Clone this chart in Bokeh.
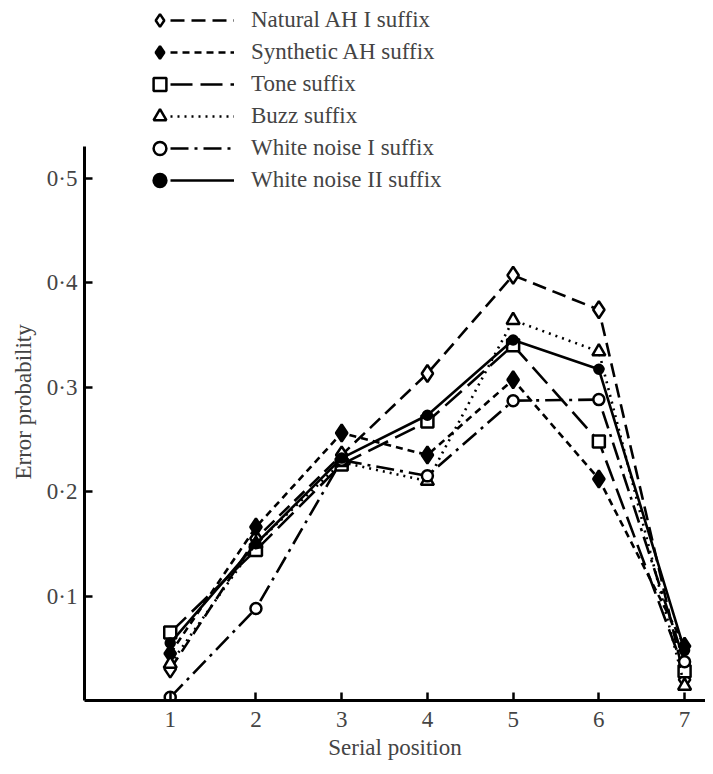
from bokeh.plotting import figure
from bokeh.models import FixedTicker, Legend, LegendItem, Range1d, Title
from bokeh.embed import file_html
from bokeh.resources import INLINE

# ---- data ----
positions = [1, 2, 3, 4, 5, 6, 7]
natural_ah = [0.030, 0.155, 0.235, 0.313, 0.407, 0.374, 0.020]
synthetic_ah = [0.045, 0.166, 0.256, 0.235, 0.307, 0.212, 0.052]
tone = [0.065, 0.144, 0.226, 0.267, 0.340, 0.248, 0.028]
buzz = [0.035, 0.150, 0.228, 0.210, 0.364, 0.334, 0.014]
white_noise_1 = [0.003, 0.088, 0.230, 0.215, 0.287, 0.288, 0.037]
white_noise_2 = [0.055, 0.150, 0.232, 0.273, 0.345, 0.317, 0.048]

series_names = ["Natural AH I suffix", "Synthetic AH suffix", "Tone suffix",
                "Buzz suffix", "White noise I suffix", "White noise II suffix"]
y_ticks = [0.1, 0.2, 0.3, 0.4, 0.5]
y_tick_labels = ["0·1", "0·2", "0·3", "0·4", "0·5"]
x_ticks = [1, 2, 3, 4, 5, 6, 7]

FONT = "Liberation Serif"
FS = "23px"
W, H = 705, 766

p = figure(width=W, height=H, output_backend="svg", toolbar_location=None,
           x_range=Range1d(0.0, 7.244), y_range=Range1d(0.0, 0.670),
           min_border_left=82, min_border_right=0, min_border_top=0,
           min_border_bottom=66)
p.outline_line_color = None
p.grid.grid_line_color = None
p.background_fill_color = "white"

styles = [
    dict(data=natural_ah, dash="14 7", marker="diamond", size=17, fill="white"),
    dict(data=synthetic_ah, dash="7 5", marker="diamond", size=17, fill="black"),
    dict(data=tone, dash="22 8", marker="square", size=12, fill="white"),
    dict(data=buzz, dash="2 5", marker="triangle", size=13, fill="white"),
    dict(data=white_noise_1, dash="18 6 3 6", marker="circle", size=11, fill="white"),
    dict(data=white_noise_2, dash="solid", marker="circle", size=9, fill="black"),
]

line_items, marker_items = [], []
for name, st in zip(series_names, styles):
    lr = p.line(positions, st["data"], line_color="black", line_width=2.6,
                line_dash=st["dash"])
    sr = p.scatter(positions, st["data"], marker=st["marker"], size=st["size"],
                   line_color="black", line_width=2.5, fill_color=st["fill"])
    line_items.append(LegendItem(label=name, renderers=[lr]))
    marker_items.append(LegendItem(label=" ", renderers=[sr]))

common = dict(border_line_color=None, background_fill_alpha=0, padding=0, margin=0,
              spacing=0, glyph_height=32, label_height=20,
              label_text_font=FONT, label_text_font_size=FS)
leg_markers = Legend(items=marker_items, location=(59, 504), glyph_width=33,
                     label_width=0, label_standoff=0, **common)
leg_lines = Legend(items=line_items, location=(86, 504), glyph_width=64,
                   label_standoff=17, **common)
p.add_layout(leg_markers)
p.add_layout(leg_lines)

# axes
for ax in (p.xaxis[0], p.yaxis[0]):
    ax.axis_line_width = 3
    ax.axis_line_color = "black"
    ax.major_tick_line_width = 2.5
    ax.major_tick_in = 8
    ax.major_tick_out = 0
    ax.minor_tick_line_color = None
    ax.major_label_text_font = FONT
    ax.major_label_text_font_size = FS
    ax.axis_label_text_font = FONT
    ax.axis_label_text_font_size = FS
    ax.axis_label_text_font_style = "normal"

p.xaxis.ticker = FixedTicker(ticks=x_ticks)
p.xaxis.major_label_standoff = 11
p.xaxis.axis_label = "Serial position"
p.xaxis.axis_label_standoff = 5

p.yaxis.ticker = FixedTicker(ticks=y_ticks)
p.yaxis.major_label_overrides = {t: l for t, l in zip(y_ticks, y_tick_labels)}
p.yaxis.bounds = (0.0, 0.53)
p.yaxis.major_label_standoff = 7

ytitle = Title(text="Error probability", align="left", offset=221, standoff=16,
               text_font=FONT, text_font_size=FS, text_font_style="normal")
p.add_layout(ytitle, "left")

open("out.html", "w").write(file_html(p, INLINE))
